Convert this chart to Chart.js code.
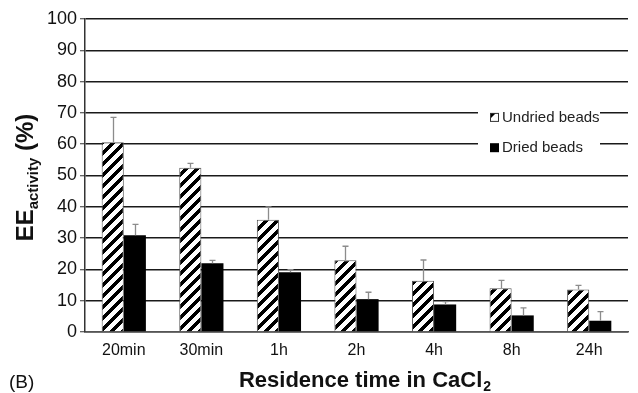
<!DOCTYPE html>
<html>
<head>
<meta charset="utf-8">
<script src="https://cdn.jsdelivr.net/npm/chart.js@4/dist/chart.umd.min.js"></script>
<style>
  html, body { margin: 0; padding: 0; background: #fff; }
  #wrap { width: 638px; height: 393px; position: relative; }
</style>
</head>
<body>
<div id="wrap"><canvas id="c" width="638" height="393"></canvas></div>
<script>
// Residence time categories
const categories = ['20min', '30min', '1h', '2h', '4h', '8h', '24h'];
// Encapsulation efficiency (activity), %
const undriedValues = [60.6, 52.5, 35.9, 22.9, 16.4, 14.0, 13.6];
const driedValues   = [30.9, 22.0, 19.1, 10.5, 8.8, 5.3, 3.6];
// Standard deviations (upper error bars)
const undriedErrors = [8.0, 1.4, 4.1, 4.5, 6.6, 2.5, 1.3];
const driedErrors   = [3.5, 0.9, 0.8, 2.2, 0.9, 2.4, 2.9];
const yTicks = [0, 10, 20, 30, 40, 50, 60, 70, 80, 90, 100];
const seriesNames = ['Undried beads', 'Dried beads'];

const FONT = '"Liberation Sans", Arial, sans-serif';

// Diagonal hatch tile ("/" stripes, black on white)
function makeHatch() {
  const s = 11, w = 5;
  const cv = document.createElement('canvas');
  cv.width = s; cv.height = s;
  const cx = cv.getContext('2d');
  const img = cx.createImageData(s, s);
  for (let y = 0; y < s; y++) {
    for (let x = 0; x < s; x++) {
      const on = ((x + y) % s) < w;
      const i = (y * s + x) * 4;
      const v = on ? 0 : 255;
      img.data[i] = v; img.data[i + 1] = v; img.data[i + 2] = v; img.data[i + 3] = 255;
    }
  }
  cx.putImageData(img, 0, 0);
  return cx.createPattern(cv, 'repeat');
}
const hatch = makeHatch();

// Upper error bars drawn from each bar's top
const errorBars = {
  id: 'errorBars',
  afterDatasetsDraw(chart) {
    const ctx = chart.ctx;
    const y = chart.scales.y;
    const errs = [undriedErrors, driedErrors];
    ctx.save();
    ctx.strokeStyle = '#8c8c8c';
    ctx.lineWidth = 1.3;
    chart.data.datasets.forEach((ds, di) => {
      const meta = chart.getDatasetMeta(di);
      meta.data.forEach((bar, i) => {
        const top = y.getPixelForValue(ds.data[i] + errs[di][i]);
        const x = Math.round(bar.x) + 0.5;
        ctx.beginPath();
        ctx.moveTo(x, bar.y);
        ctx.lineTo(x, top);
        ctx.moveTo(x - 3, top);
        ctx.lineTo(x + 3, top);
        ctx.stroke();
      });
    });
    ctx.restore();
  }
};

// Legend box over the grid, axis titles and panel label
const decorations = {
  id: 'decorations',
  afterDraw(chart) {
    const ctx = chart.ctx;
    const a = chart.chartArea;
    const ys = chart.scales.y;
    ctx.save();

    // legend
    const lx = a.right - 150, lw = 122;
    const y1 = ys.getPixelForValue(70), y2 = ys.getPixelForValue(60);
    ctx.fillStyle = '#fff';
    ctx.fillRect(lx, y1 - 10, lw, (y2 - y1) + 22);
    ctx.font = '15px ' + FONT;
    ctx.textBaseline = 'middle';
    ctx.textAlign = 'left';
    const r1 = y1 + 4, r2 = y2 + 3;
    // undried sample
    ctx.fillStyle = '#fff';
    ctx.fillRect(lx + 12, r1 - 4, 8, 8);
    ctx.fillStyle = '#000';
    ctx.beginPath();
    ctx.moveTo(lx + 12, r1 - 4); ctx.lineTo(lx + 18, r1 - 4); ctx.lineTo(lx + 12, r1 + 2); ctx.closePath();
    ctx.fill();
    ctx.strokeStyle = '#333'; ctx.lineWidth = 1;
    ctx.strokeRect(lx + 12.5, r1 - 3.5, 8, 8);
    ctx.fillStyle = '#222';
    ctx.fillText(seriesNames[0], lx + 24, r1 + 1);
    // dried sample
    ctx.fillStyle = '#000';
    ctx.fillRect(lx + 12, r2 - 4, 9, 9);
    ctx.fillStyle = '#222';
    ctx.fillText(seriesNames[1], lx + 24, r2 + 1);

    // x title with subscript
    ctx.fillStyle = '#111';
    ctx.textBaseline = 'alphabetic';
    const main = 'Residence time in CaCl';
    ctx.font = 'bold 22px ' + FONT;
    const mw = ctx.measureText(main).width;
    ctx.font = 'bold 14px ' + FONT;
    const sw = ctx.measureText('2').width;
    const cx = (a.left + a.right) / 2 + 8;
    let sx = cx - (mw + sw) / 2;
    const by = chart.height - 6;
    ctx.font = 'bold 22px ' + FONT;
    ctx.fillText(main, sx, by);
    ctx.font = 'bold 14px ' + FONT;
    ctx.fillText('2', sx + mw + 1, by + 4);

    // y title, rotated, with subscript
    ctx.save();
    ctx.translate(33, (a.top + a.bottom) / 2 + 2);
    ctx.rotate(-Math.PI / 2);
    const p1 = 'EE', p2 = 'activity', p3 = ' (%)';
    ctx.font = 'bold 24px ' + FONT;
    const w1 = ctx.measureText(p1).width, w3 = ctx.measureText(p3).width;
    ctx.font = 'bold 15px ' + FONT;
    const w2 = ctx.measureText(p2).width;
    let tx = -(w1 + w2 + w3) / 2;
    ctx.font = 'bold 24px ' + FONT;
    ctx.fillText(p1, tx, 0);
    ctx.font = 'bold 15px ' + FONT;
    ctx.fillText(p2, tx + w1, 5);
    ctx.font = 'bold 24px ' + FONT;
    ctx.fillText(p3, tx + w1 + w2, 0);
    ctx.restore();

    // panel label
    ctx.font = '19px ' + FONT;
    ctx.fillStyle = '#111';
    ctx.fillText('(B)', 9, chart.height - 5);
    ctx.restore();
  }
};

new Chart(document.getElementById('c'), {
  type: 'bar',
  data: {
    labels: categories,
    datasets: [
      {
        label: seriesNames[0],
        data: undriedValues,
        backgroundColor: hatch,
        borderColor: '#555',
        borderWidth: 1,
        borderSkipped: 'bottom'
      },
      {
        label: seriesNames[1],
        data: driedValues,
        backgroundColor: '#000',
        borderWidth: 0
      }
    ]
  },
  options: {
    responsive: false,
    animation: false,
    devicePixelRatio: 1,
    layout: { padding: { left: 0, right: 10, top: 19, bottom: 0 } },
    datasets: { bar: { categoryPercentage: 0.57, barPercentage: 1.0 } },
    plugins: { legend: { display: false }, tooltip: { enabled: false } },
    scales: {
      x: {
        grid: { display: false, drawTicks: false },
        border: { display: true, color: '#555', width: 1.5 },
        ticks: { color: '#111', font: { family: FONT, size: 16 }, padding: 9 },
        afterFit(s) { s.height = 61; }
      },
      y: {
        min: 0, max: 100,
        afterBuildTicks(s) { s.ticks = yTicks.map(v => ({ value: v })); },
        grid: { color: '#1a1a1a', lineWidth: 1.5, tickLength: 5, drawTicks: true,
                tickColor: '#333', tickWidth: 1 },
        border: { display: true, color: '#333', width: 1.5 },
        ticks: { color: '#111', font: { family: FONT, size: 18 }, padding: 3 },
        afterFit(s) { s.width = 85; }
      }
    }
  },
  plugins: [errorBars, decorations]
});
</script>
</body>
</html>
